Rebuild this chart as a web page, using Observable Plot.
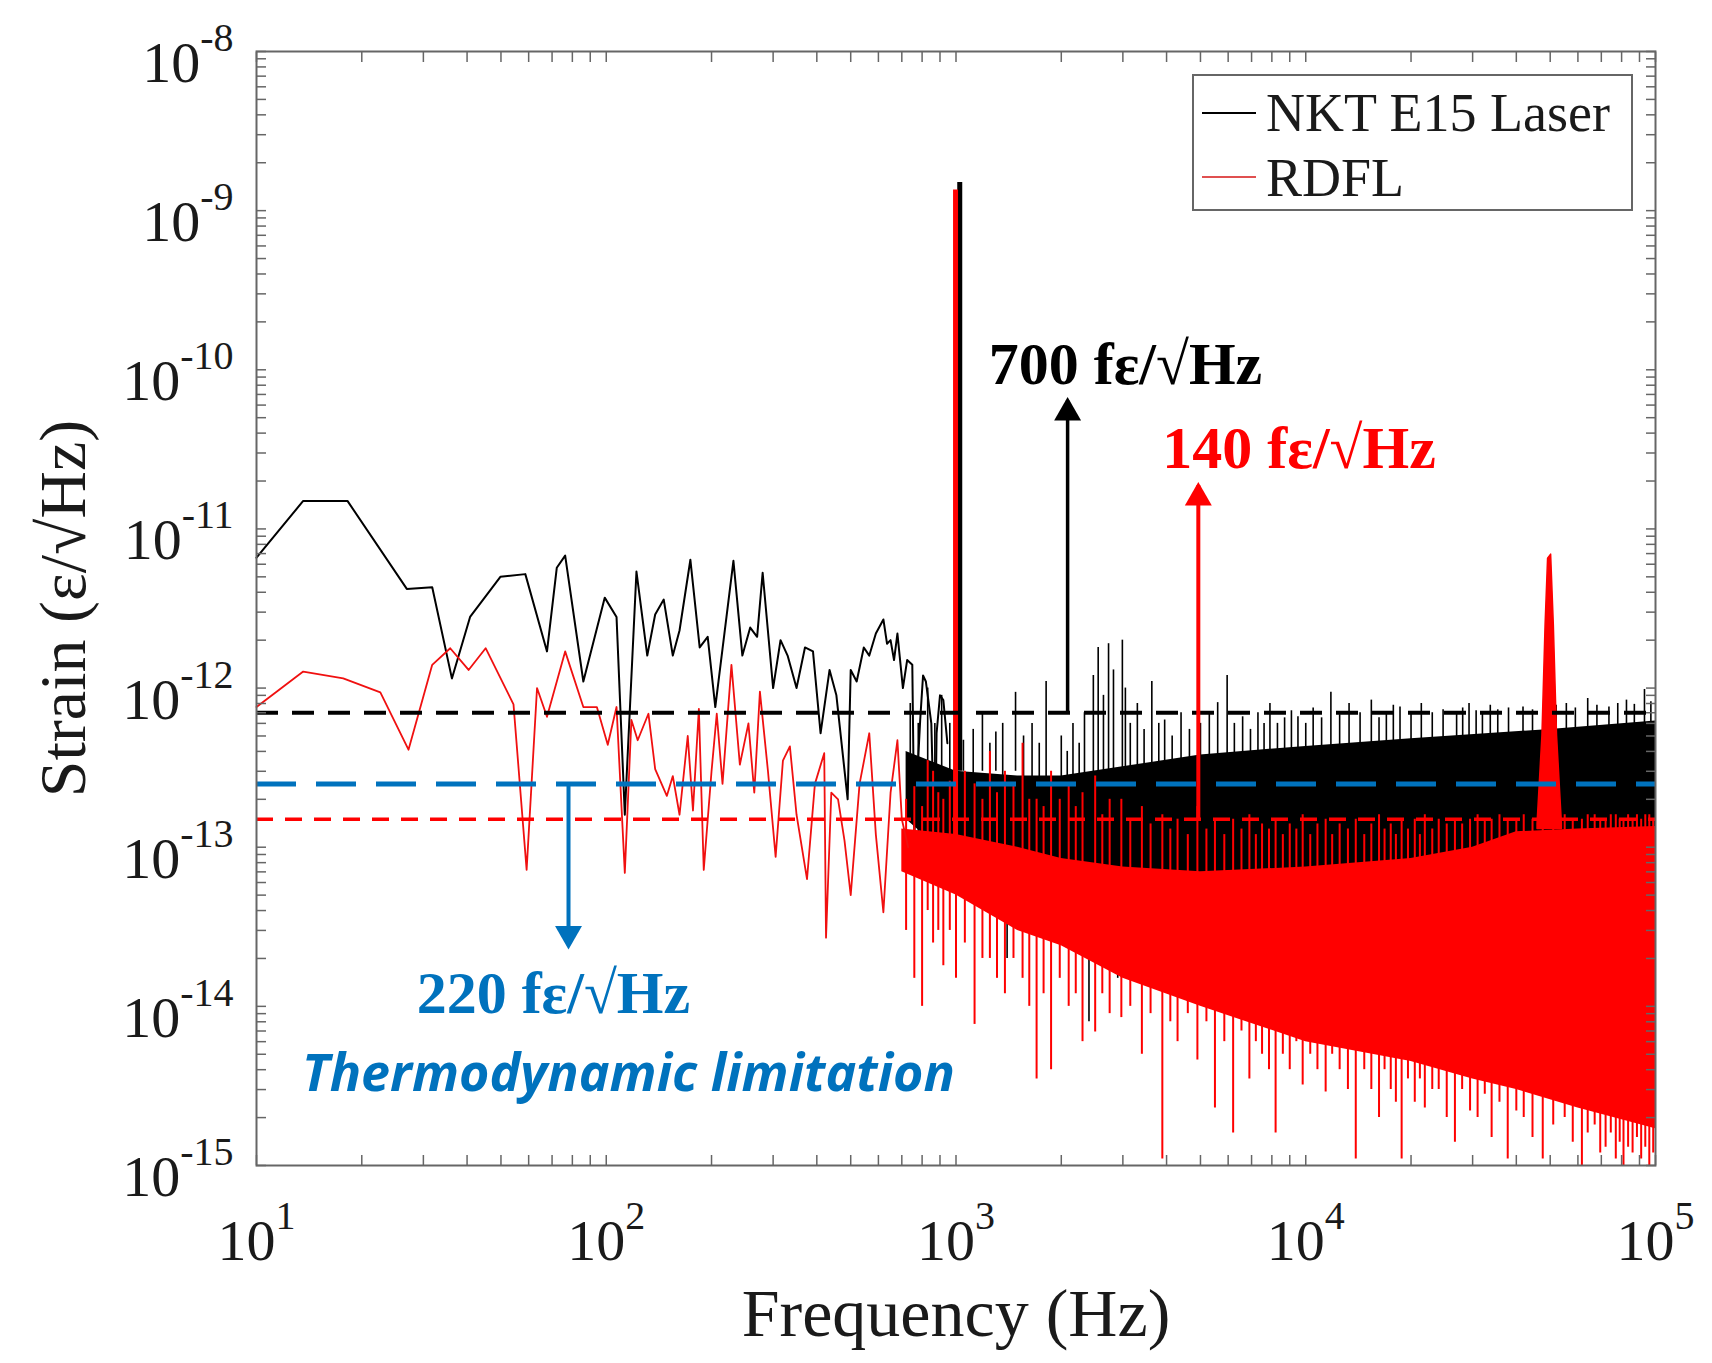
<!DOCTYPE html>
<html>
<head>
<meta charset="utf-8">
<script src="https://cdn.jsdelivr.net/npm/d3@7"></script>
<script src="https://cdn.jsdelivr.net/npm/@observablehq/plot@0.6"></script>
<style>
  body { margin: 0; background: white; }
</style>
</head>
<body>
<div id="chart"></div>
<script>
// strain spectra, [Hz, strain]
const nktLow = [
  [10, 6.6e-12], [13.6, 1.5e-11], [18.2, 1.5e-11], [26.9, 4.2e-12], [31.8, 4.3e-12], [36.2, 1.15e-12],
  [40.8, 2.8e-12], [49.8, 5.0e-12], [58.7, 5.2e-12], [67.7, 1.7e-12], [72.2, 5.7e-12], [76.3, 6.8e-12],
  [86, 1.1e-12], [99, 3.7e-12], [107, 2.8e-12], [113, 1.6e-13], [122, 5.4e-12], [131, 1.6e-12],
  [138, 2.9e-12], [146, 3.6e-12], [155, 1.6e-12], [162, 2.3e-12], [174, 6.4e-12], [185, 1.8e-12],
  [195, 2.1e-12], [205, 7.6e-13], [231, 6.3e-12], [245, 1.6e-12], [258, 2.4e-12], [270, 2.1e-12],
  [280, 5.3e-12], [300, 1.0e-12], [315, 2.0e-12], [330, 1.6e-12], [350, 1.0e-12], [370, 1.8e-12],
  [390, 1.7e-12], [410, 5.2e-13], [435, 1.3e-12], [455, 9e-13], [490, 2.0e-13], [500, 1.3e-12],
  [520, 1.1e-12], [545, 1.8e-12], [565, 1.6e-12], [590, 2.2e-12], [620, 2.7e-12], [635, 1.9e-12],
  [650, 2.0e-12], [665, 1.5e-12], [680, 2.2e-12], [705, 1.0e-12], [725, 1.5e-12], [750, 1.4e-12],
  [760, 1.2e-13], [790, 6.3e-13], [805, 1.2e-12], [820, 1.1e-12], [850, 6e-13], [870, 8e-14],
  [880, 5.2e-13], [900, 9e-13], [920, 8.4e-13], [945, 4.5e-13]
];
// dense part: [Hz, low edge, high edge]
const nktCore = [
  [720, 1.5e-13, 4e-13], [1000, 8e-14, 3e-13], [1500, 6e-14, 2.8e-13], [2000, 6e-14, 2.8e-13],
  [3000, 6e-14, 3.2e-13], [5000, 6e-14, 3.8e-13], [10000, 6e-14, 4.3e-13], [20000, 6e-14, 4.8e-13],
  [50000, 6e-14, 5.5e-13], [100000, 6e-14, 6.2e-13]
];
const nktStrands = [
  [740, 1.5e-13, 8e-13], [780, 1.2e-13, 6e-13], [830, 1e-13, 1e-12], [870, 8e-14, 6e-13], [910, 1e-13, 9e-13],
  [960, 1e-13, 6e-13], [1050, 3e-13, 4.7e-13], [1120, 2e-13, 5.5e-13], [1190, 3e-13, 6.9e-13], [1250, 2e-13, 4.5e-13],
  [1300, 3e-13, 5.3e-13], [1360, 2e-13, 6e-13], [1400, 2e-14, 1e-13], [1480, 3e-13, 9.4e-13], [1560, 2e-13, 5e-13],
  [1650, 2e-13, 6e-13], [1730, 2e-13, 4.5e-13], [1810, 2.5e-13, 1.1e-12], [1900, 3e-14, 1e-13], [2000, 2e-13, 5e-13],
  [2080, 2e-13, 4e-13], [2160, 2.5e-13, 6e-13], [2250, 2e-13, 4.5e-13], [2330, 2e-13, 7e-13], [2400, 8e-15, 1e-13],
  [2470, 2e-13, 1.2e-12], [2550, 2.5e-13, 1.8e-12], [2640, 2e-13, 9e-13], [2730, 2.5e-13, 1.9e-12], [2820, 2e-13, 1.3e-12],
  [2900, 1.5e-14, 1e-13], [2990, 2.5e-13, 2.0e-12], [3050, 2.5e-13, 1.0e-12], [3150, 2e-13, 6e-13], [3300, 3e-13, 8e-13],
  [3450, 3e-13, 5.5e-13], [3630, 3e-13, 1.1e-12], [3800, 3e-13, 6e-13], [3950, 3e-13, 6.3e-13], [4150, 3e-13, 5e-13],
  [4400, 3e-13, 7e-13], [4650, 3e-13, 5.5e-13], [5000, 3e-13, 6e-13], [5300, 3e-13, 7e-13], [5600, 3e-13, 8.1e-13],
  [5960, 3e-13, 1.2e-12], [6250, 3e-13, 6e-13], [6600, 3e-13, 6.6e-13], [6950, 3e-13, 5.5e-13], [7300, 3e-13, 7e-13],
  [7600, 3e-13, 6e-13], [7900, 3e-13, 8e-13], [8300, 3e-13, 6e-13], [8700, 3e-13, 6.5e-13], [9100, 3e-13, 7.2e-13],
  [9500, 3e-13, 6.6e-13], [10000, 3e-13, 6e-13], [10500, 3e-13, 7.5e-13], [11100, 3e-13, 6.5e-13], [11800, 3e-13, 9.4e-13],
  [12500, 3e-13, 6.8e-13], [13300, 3e-13, 8e-13], [14300, 3e-13, 7e-13], [15400, 3e-13, 8.4e-13], [16200, 3e-13, 6.5e-13],
  [17000, 3e-13, 7e-13], [17800, 3e-13, 7.8e-13], [18600, 3e-13, 7.6e-13], [20000, 3e-13, 7e-13], [21400, 3e-13, 8e-13],
  [23000, 3e-13, 7e-13], [24700, 3e-13, 7.3e-13], [27000, 3e-13, 7e-13], [28100, 3e-13, 7.5e-13], [29300, 3e-13, 8e-13],
  [30700, 3e-13, 7.2e-13], [32000, 3e-13, 7e-13], [33700, 3e-13, 7.8e-13], [35400, 3e-13, 7.3e-13], [38000, 3e-13, 7.5e-13],
  [41800, 3e-13, 7.6e-13], [44500, 3e-13, 7.3e-13], [48000, 3e-13, 7e-13], [52000, 3e-13, 7.8e-13], [55600, 3e-13, 8e-13],
  [59000, 3e-13, 7.5e-13], [64000, 3e-13, 8.6e-13], [68000, 3e-13, 7.8e-13], [73600, 3e-13, 7.6e-13], [78000, 3e-13, 8e-13],
  [82600, 3e-13, 8.4e-13], [87000, 3e-13, 7.9e-13], [93000, 3e-13, 9.8e-13], [97000, 3e-13, 8.2e-13]
];
const nktPeak = [[1025, 3e-13, 1.5e-9]];

const rdflLow = [
  [10, 7.6e-13], [13.6, 1.27e-12], [17.7, 1.15e-12], [22.6, 9.4e-13], [27.2, 4.1e-13], [31.8, 1.4e-12],
  [35.8, 1.78e-12], [40.4, 1.3e-12], [45.2, 1.78e-12], [54.3, 7.9e-13], [59.2, 7.2e-14], [63.4, 1.0e-12],
  [67.7, 6.6e-13], [76.3, 1.7e-12], [86, 7.6e-13], [94, 7.6e-13], [101, 4.4e-13], [107, 7.6e-13],
  [113, 6.9e-14], [118, 6.3e-13], [123, 4.7e-13], [132, 6.9e-13], [138, 3.1e-13], [149, 2.1e-13],
  [155, 2.8e-13], [162, 1.6e-13], [171, 5.0e-13], [177, 1.7e-13], [184, 7.4e-13], [190, 7.2e-14],
  [200, 3e-13], [207, 6.9e-13], [215, 2.5e-13], [228, 1.4e-12], [241, 3.3e-13], [255, 6e-13],
  [265, 2.2e-13], [275, 9.5e-13], [290, 3e-13], [305, 8.7e-14], [320, 3.5e-13], [335, 4.3e-13],
  [350, 1.6e-13], [375, 6.3e-14], [395, 2.5e-13], [420, 3.9e-13], [425, 2.7e-14], [440, 2.2e-13],
  [460, 2.0e-13], [480, 1.1e-13], [500, 5.0e-14], [530, 2.5e-13], [565, 5.2e-13], [590, 1.2e-13],
  [620, 3.9e-14], [650, 2.2e-13], [680, 4.7e-13], [700, 1.5e-13], [730, 1.0e-13]
];
const rdflCore = [
  [700, 7e-14, 1.3e-13], [1000, 5e-14, 1.2e-13], [1500, 3e-14, 1.0e-13], [2000, 2.4e-14, 8.5e-14],
  [3000, 1.5e-14, 7.5e-14], [5000, 1.0e-14, 7e-14], [10000, 6e-15, 7.5e-14], [20000, 4.5e-15, 8.5e-14],
  [30000, 3.5e-15, 1.0e-13], [40000, 3e-15, 1.25e-13], [60000, 2.3e-15, 1.3e-13], [100000, 1.7e-15, 1.35e-13]
];
const rdflStrands = [
  [720, 3e-14, 2e-13], [760, 1.5e-14, 2.4e-13], [800, 1.0e-14, 1.8e-13], [830, 4e-14, 3.5e-13], [860, 2.5e-14, 3e-13],
  [890, 3e-14, 2.2e-13], [920, 1.8e-14, 2e-13], [960, 3e-14, 2.6e-13], [1000, 1.5e-14, 1.6e-13], [1060, 2.5e-14, 3e-13],
  [1130, 7.7e-15, 2.5e-13], [1190, 2e-14, 2e-13], [1250, 2e-14, 4e-13], [1310, 1.5e-14, 2.2e-13], [1380, 1.2e-14, 3e-13],
  [1460, 2e-14, 2.5e-13], [1550, 1.5e-14, 4.5e-13], [1620, 1e-14, 2e-13], [1700, 3.5e-15, 2e-13], [1780, 1.2e-14, 1.8e-13],
  [1870, 4e-15, 3e-13], [1980, 1.5e-14, 2e-13], [2100, 1e-14, 2.5e-13], [2200, 1.2e-14, 1.8e-13], [2300, 6e-15, 2.2e-13],
  [2500, 6.9e-15, 2.8e-13], [2620, 1.2e-14, 1.6e-13], [2750, 9e-15, 2e-13], [2970, 8.5e-15, 2e-13], [3150, 1e-14, 1.5e-13],
  [3400, 5e-15, 1.8e-13], [3600, 9e-15, 1.4e-13], [3890, 1.1e-15, 1.6e-13], [4100, 8e-15, 1.3e-13], [4300, 6e-15, 1.5e-13],
  [4600, 9e-15, 1.2e-13], [4900, 4.6e-15, 1.8e-13], [5200, 8e-15, 1.3e-13], [5500, 2.3e-15, 1.5e-13], [5850, 6e-15, 1.2e-13],
  [6200, 1.6e-15, 1.5e-13], [6550, 7e-15, 1.3e-13], [6900, 3.5e-15, 1.6e-13], [7200, 6e-15, 1.2e-13], [7500, 5e-15, 1.4e-13],
  [7850, 4e-15, 1.3e-13], [8200, 1.6e-15, 1.5e-13], [8600, 5e-15, 1.2e-13], [9000, 4e-15, 1.4e-13], [9400, 6e-15, 1.3e-13],
  [9800, 3.2e-15, 1.6e-13], [10300, 5e-15, 1.2e-13], [10800, 4e-15, 1.4e-13], [11400, 2.9e-15, 1.5e-13], [11900, 5e-15, 1.2e-13],
  [12500, 4e-15, 1.4e-13], [13200, 3e-15, 1.3e-13], [13900, 1.1e-15, 1.5e-13], [14700, 4e-15, 1.2e-13], [15400, 3e-15, 1.4e-13],
  [16200, 2e-15, 1.6e-13], [16800, 4e-15, 1.3e-13], [17500, 3e-15, 1.4e-13], [18100, 2.5e-15, 1.2e-13], [18800, 1.1e-15, 1.5e-13],
  [19600, 3.5e-15, 1.3e-13], [20500, 2.5e-15, 1.5e-13], [21200, 3.5e-15, 1.2e-13], [21900, 2.3e-15, 1.6e-13], [23000, 3e-15, 1.3e-13],
  [24000, 3e-15, 1.5e-13], [25300, 2e-15, 1.4e-13], [26700, 1.4e-15, 1.5e-13], [28000, 3e-15, 1.4e-13], [29500, 2.2e-15, 1.5e-13],
  [31000, 2e-15, 1.6e-13], [32500, 2.8e-15, 1.5e-13], [34000, 1.5e-15, 1.5e-13], [35800, 2.5e-15, 1.6e-13], [37800, 1.1e-15, 1.5e-13],
  [40000, 2.2e-15, 1.5e-13], [42000, 2e-15, 1.6e-13], [44500, 1.5e-15, 1.5e-13], [47600, 1.1e-15, 1.5e-13], [51000, 1.8e-15, 1.5e-13],
  [55000, 2e-15, 1.6e-13], [58000, 1.4e-15, 1.5e-13], [61600, 1e-15, 1.5e-13], [64000, 1.6e-15, 1.6e-13], [67000, 1.8e-15, 1.6e-13],
  [69500, 1.2e-15, 1.5e-13], [72000, 1.3e-15, 1.5e-13], [74500, 1.6e-15, 1.6e-13], [77000, 1.1e-15, 1.6e-13], [79000, 1.4e-15, 1.5e-13],
  [81000, 1e-15, 1.5e-13], [83500, 1.3e-15, 1.6e-13], [86000, 1.2e-15, 1.5e-13], [88500, 1.5e-15, 1.6e-13], [91000, 1.1e-15, 1.5e-13],
  [93500, 1.3e-15, 1.6e-13], [96000, 1.0e-15, 1.6e-13], [98500, 1.2e-15, 1.5e-13]
];
const rdflPeak = [[997, 1e-13, 1.35e-9]];
const rdflPeak50k = [
  [46000, 1.3e-13, 1.4e-13], [47500, 1.3e-13, 5e-13], [48500, 1.3e-13, 2.5e-12], [49300, 1.3e-13, 6.5e-12],
  [50300, 1.3e-13, 6.9e-12], [51200, 1.3e-13, 2.5e-12], [52300, 1.3e-13, 5e-13], [54000, 1.3e-13, 1.4e-13]
];

// floors drawn as dashed lines
const nktFloor = 7e-13;
const thermoFloor = 2.5e-13;
const rdflFloor = 1.5e-13;

// arrows: [Hz, from, to]
const nktArrow = [2085, 7e-13, 6.4e-11];
const rdflArrow = [4930, 1.5e-13, 1.87e-11];
const thermoArrow = [78, 2.5e-13, 2.4e-14];

// annotation anchors: [Hz, strain]
const nktNote = [1240, 8.2e-11];
const rdflNote = [3890, 2.43e-11];
const thermoNote = [28.7, 9.1e-15];
const thermoCaption = [13.5, 2.95e-15];

const xExponents = [1, 2, 3, 4, 5];
const yExponents = [-15, -14, -13, -12, -11, -10, -9, -8];
const seriesNames = ["NKT E15 Laser", "RDFL"];

const serif = "'Liberation Serif', 'Times New Roman', serif";
const blue = "#0072BD";

const xMajor = xExponents.map(e => 10 ** e);
const yMajor = yExponents.map(e => 10 ** e);
const xAll = [], yAll = [];
xExponents.slice(0, -1).forEach(e => { for (let m = 1; m < 10; m++) xAll.push(m * 10 ** e); });
xAll.push(1e5);
yExponents.slice(0, -1).forEach(e => { for (let m = 1; m < 10; m++) yAll.push(m * 10 ** e); });
yAll.push(1e-8);

const expLabel = d => "10^" + Math.round(Math.log10(d));
const band = (data, color, w) => Plot.ruleX(data, { x: d => d[0], y1: d => d[1], y2: d => d[2], stroke: color, strokeWidth: w });

const plot = Plot.plot({
  width: 1712,
  height: 1363,
  marginLeft: 256,
  marginRight: 57,
  marginTop: 51,
  marginBottom: 198,
  x: { type: "log", domain: [10, 1e5] },
  y: { type: "log", domain: [1e-15, 1e-8] },
  style: { fontFamily: serif, background: "white", color: "#1a1a1a" },
  marks: [
    // NKT laser
    Plot.areaY(nktCore, { x: d => d[0], y1: d => d[1], y2: d => d[2], fill: "black" }),
    band(nktStrands, "black", 1.6),
    Plot.line(nktLow, { x: d => d[0], y: d => d[1], stroke: "black", strokeWidth: 2 }),
    band(nktPeak, "black", 5),

    // RDFL
    Plot.areaY(rdflCore, { x: d => d[0], y1: d => d[1], y2: d => d[2], fill: "#ff0000" }),
    band(rdflStrands, "#ff0000", 2),
    Plot.line(rdflLow, { x: d => d[0], y: d => d[1], stroke: "#f01010", strokeWidth: 1.8 }),
    band(rdflPeak, "#ff0000", 5),
    Plot.areaY(rdflPeak50k, { x: d => d[0], y1: d => d[1], y2: d => d[2], fill: "#ff0000", stroke: "#ff0000", strokeWidth: 1.5 }),

    // floors
    Plot.ruleY([nktFloor], { stroke: "black", strokeWidth: 4, strokeDasharray: "22,14" }),
    Plot.ruleY([thermoFloor], { stroke: blue, strokeWidth: 5, strokeDasharray: "40,20" }),
    Plot.ruleY([rdflFloor], { stroke: "#ff0000", strokeWidth: 3.5, strokeDasharray: "17,12" }),

    // arrows
    band([nktArrow], "black", 3.5),
    Plot.dot([nktArrow], { x: d => d[0], y: d => d[2], symbol: "triangle", r: 10, fill: "black", dy: 12 }),
    band([rdflArrow], "#ff0000", 4),
    Plot.dot([rdflArrow], { x: d => d[0], y: d => d[2], symbol: "triangle", r: 10, fill: "#ff0000", dy: 12 }),
    band([thermoArrow], blue, 4),
    Plot.dot([thermoArrow], { x: d => d[0], y: d => d[2], symbol: "triangle", r: 10, fill: blue, rotate: 180, dy: -12 }),

    // notes
    Plot.text([nktNote], { x: d => d[0], y: d => d[1], text: () => "700 fε/√Hz", textAnchor: "start", lineAnchor: "bottom",
      fontSize: 60, fontWeight: "bold", fill: "black" }),
    Plot.text([rdflNote], { x: d => d[0], y: d => d[1], text: () => "140 fε/√Hz", textAnchor: "start", lineAnchor: "bottom",
      fontSize: 60, fontWeight: "bold", fill: "#ff0000" }),
    Plot.text([thermoNote], { x: d => d[0], y: d => d[1], text: () => "220 fε/√Hz", textAnchor: "start", lineAnchor: "bottom",
      fontSize: 60, fontWeight: "bold", fill: blue }),
    Plot.text([thermoCaption], { x: d => d[0], y: d => d[1], text: () => "Thermodynamic limitation", textAnchor: "start",
      lineAnchor: "bottom", fontSize: 52, fontWeight: "bold", fontStyle: "italic", fontFamily: "'Open Sans', Lato, sans-serif", fill: blue }),

    // frame and inward ticks
    Plot.frame({ stroke: "#666", strokeWidth: 2 }),
    Plot.axisX({ anchor: "bottom", ticks: xAll, tickSize: -10, tickFormat: () => "", label: null, stroke: "#666", strokeWidth: 1.5 }),
    Plot.axisX({ anchor: "top", ticks: xAll, tickSize: -10, tickFormat: () => "", label: null, stroke: "#666", strokeWidth: 1.5 }),
    Plot.axisY({ anchor: "left", ticks: yAll, tickSize: -10, tickFormat: () => "", label: null, stroke: "#666", strokeWidth: 1.5 }),
    Plot.axisY({ anchor: "right", ticks: yAll, tickSize: -10, tickFormat: () => "", label: null, stroke: "#666", strokeWidth: 1.5 }),

    // tick labels
    Plot.axisX({ anchor: "bottom", ticks: xMajor, tickSize: 0, tickPadding: 53, tickFormat: expLabel, label: null,
      fontSize: 58, fill: "#1a1a1a" }),
    Plot.axisY({ anchor: "left", ticks: yMajor, tickSize: 0, tickPadding: 23, tickFormat: expLabel, label: null,
      fontSize: 58, dy: 12, fill: "#1a1a1a" }),

    // axis titles
    Plot.text(["Frequency (Hz)"], { frameAnchor: "bottom", dy: 170, lineAnchor: "bottom", textAnchor: "middle", fontSize: 68, fill: "#1a1a1a" }),
    Plot.text(["Strain (ε/√Hz)"], { frameAnchor: "left", dx: -172, rotate: -90, lineAnchor: "bottom", textAnchor: "middle",
      fontSize: 66, fill: "#1a1a1a" })
  ]
});

// superscript exponents on tick labels
d3.select(plot).selectAll('g[aria-label="x-axis tick label"] text, g[aria-label="y-axis tick label"] text').each(function () {
  const t = d3.select(this);
  const [base, exp] = t.text().split("^");
  t.text(null);
  t.append("tspan").text(base);
  t.append("tspan").attr("dy", -31).attr("font-size", 40).text(exp);
});

// legend box in the upper right corner
const legend = d3.select(plot).append("g").attr("font-family", serif).attr("font-size", 54).attr("text-anchor", "start");
legend.append("rect").attr("x", 1193).attr("y", 75).attr("width", 439).attr("height", 135)
  .attr("fill", "white").attr("stroke", "#666").attr("stroke-width", 2);
const legendColors = ["black", "#e05050"];
seriesNames.forEach((name, i) => {
  legend.append("line").attr("x1", 1202).attr("x2", 1256).attr("y1", 113 + i * 64).attr("y2", 113 + i * 64)
    .attr("stroke", legendColors[i]).attr("stroke-width", 2);
  legend.append("text").attr("x", 1266).attr("y", 131 + i * 65).attr("fill", "#1a1a1a").text(name);
});

document.getElementById("chart").append(plot);
</script>
</body>
</html>
